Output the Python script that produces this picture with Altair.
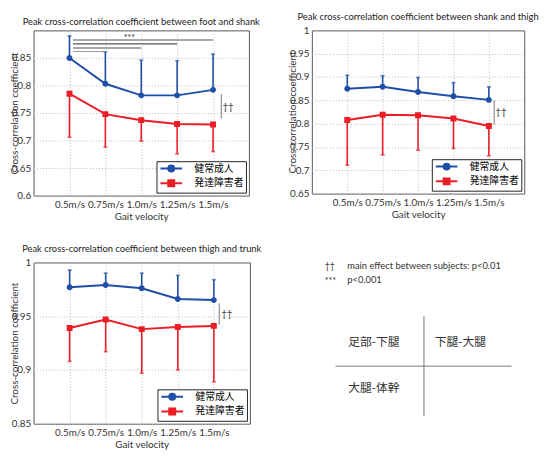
import json
import altair as alt
import pandas as pd

# ---------------- data ----------------
speeds = ["0.5m/s", "0.75m/s", "1.0m/s", "1.25m/s", "1.5m/s"]
speed_pos = [1, 2, 3, 4, 5]
groups = ["健常成人", "発達障害者"]

# foot - shank
fs_healthy = [0.850, 0.803, 0.782, 0.782, 0.792]
fs_healthy_upper = [0.890, 0.861, 0.846, 0.845, 0.857]
fs_dd = [0.785, 0.748, 0.737, 0.730, 0.729]
fs_dd_lower = [0.706, 0.688, 0.699, 0.676, 0.680]

# shank - thigh
st_healthy = [0.875, 0.879, 0.868, 0.859, 0.851]
st_healthy_upper = [0.904, 0.903, 0.899, 0.888, 0.879]
st_dd = [0.808, 0.819, 0.818, 0.811, 0.795]
st_dd_lower = [0.711, 0.733, 0.743, 0.747, 0.731]

# thigh - trunk
tt_healthy = [0.977, 0.979, 0.976, 0.966, 0.965]
tt_healthy_upper = [0.993, 0.990, 0.990, 0.988, 0.984]
tt_dd = [0.939, 0.947, 0.938, 0.940, 0.941]
tt_dd_lower = [0.908, 0.917, 0.897, 0.900, 0.889]

fs_ticks = [0.6, 0.65, 0.7, 0.75, 0.8, 0.85]
st_ticks = [0.65, 0.7, 0.75, 0.8, 0.85, 0.9, 0.95, 1.0]
tt_ticks = [0.85, 0.9, 0.95, 1.0]

# significance brackets (foot-shank): from 0.5m/s to each other speed
sig_end_pos = [5, 4, 3, 2]
sig_levels = [0.8825, 0.8754, 0.868, 0.8617]

notes_sym = ["††", "***"]
notes_text = ["main effect between subjects: p<0.01", "p<0.001"]
quad_labels = ["足部-下腿", "下腿-大腿", "大腿-体幹"]

# ---------------- style ----------------
BLUE = "#1f4ea6"
RED = "#ea1d25"
GRAY = "#777777"
FONT = "Lato"
CJK = "Noto Sans CJK JP"
# legend-style symbols: a line segment with a marker (the segment is only stroked in the legend)
CIRCLE_LINE = "M-2.44,0H2.44M-0.67,0A0.67,0.67,0,1,1,0.67,0A0.67,0.67,0,1,1,-0.67,0Z"
SQUARE_LINE = "M-2.44,0H2.44M-0.67,-0.67H0.67V0.67H-0.67Z"
SYM_SIZE = 81
LABEL_EXPR = json.dumps(speeds) + "[datum.value - 1]"


def panel(h, h_up, d, d_lo, y_dom, y_ticks, dag):
    df = pd.DataFrame({
        "pos": speed_pos * 2,
        "group": [groups[0]] * 5 + [groups[1]] * 5,
        "value": h + d,
        "err": h_up + d_lo,
    })
    xs = alt.Scale(domain=[0, 6], nice=False, zero=False)
    ys = alt.Scale(domain=y_dom, nice=False, zero=False)
    xaxis = alt.Axis(values=speed_pos, labelExpr=LABEL_EXPR, title="Gait velocity",
                     grid=True, ticks=False, domain=False, labelPadding=4, titlePadding=2)
    yaxis = alt.Axis(values=y_ticks, format=".2~f", title="Cross-correlation coefficient",
                     grid=True, ticks=False, domain=False, labelPadding=3, titlePadding=-8)

    def X(f="pos"):
        return alt.X(f"{f}:Q", scale=xs, axis=xaxis)

    def Y(f="value"):
        return alt.Y(f"{f}:Q", scale=ys, axis=yaxis)

    col = alt.Color("group:N", scale=alt.Scale(domain=groups, range=[BLUE, RED]), legend=None)
    base = alt.Chart(df)
    lines = base.mark_line(strokeWidth=2).encode(x=X(), y=Y(), color=col)
    err = base.mark_rule(strokeWidth=1.6).encode(x=X(), y=Y(), y2="err:Q", color=col)
    caps = base.mark_tick(orient="horizontal", size=4, thickness=1.6).encode(x=X(), y=Y("err"), color=col)
    leg = alt.Legend(title=None, orient="bottom-right", offset=3, padding=2,
                     strokeColor="#222222", fillColor="white", symbolSize=SYM_SIZE,
                     symbolStrokeWidth=2, symbolOffset=7.5, labelFont=CJK, labelFontSize=10,
                     rowPadding=0, labelOffset=18, cornerRadius=0)
    pts = base.mark_point(filled=True, opacity=1).encode(
        x=X(), y=Y(),
        fill=alt.Fill("group:N", scale=alt.Scale(domain=groups, range=[BLUE, RED]), legend=leg),
        stroke=alt.Stroke("group:N", scale=alt.Scale(domain=groups, range=[BLUE, RED]), legend=leg),
        shape=alt.Shape("group:N", scale=alt.Scale(domain=groups, range=[CIRCLE_LINE, SQUARE_LINE]), legend=leg),
        strokeWidth=alt.value(0), size=alt.value(SYM_SIZE),
    )
    layers = [err, caps, lines, pts]

    # dagger annotation (main effect between subjects)
    dx, dy1, dy2, tx, ty = dag
    ddf = pd.DataFrame({"x": [dx], "y1": [dy1], "y2": [dy2], "tx": [tx], "ty": [ty], "t": ["††"]})
    layers.append(alt.Chart(ddf).mark_rule(color=GRAY, strokeWidth=1).encode(x=X("x"), y=Y("y1"), y2="y2:Q"))
    layers.append(alt.Chart(ddf).mark_text(font=FONT, fontSize=10, color="#333333", align="center", baseline="middle")
                  .encode(x=X("tx"), y=Y("ty"), text="t:N"))
    return layers, X, Y


def finish(layers, w, hgt, title):
    return alt.layer(*layers).properties(
        width=w, height=hgt,
        title=alt.TitleParams(title, font=FONT, fontSize=9.5, fontWeight="normal", color="#222222", offset=4),
    )


H1, H2, H3 = 168, 166, 164

# panel 1
l1, X1, Y1 = panel(fs_healthy, fs_healthy_upper, fs_dd, fs_dd_lower, [0.6, 0.9], fs_ticks,
                   (5.23, 0.7844, 0.7401, 5.42, 0.761))
sig_df = pd.DataFrame({"x1": [1.1] * 4, "x2": sig_end_pos, "y": sig_levels})
l1.append(alt.Chart(sig_df.iloc[:3]).mark_rule(color="#555555", strokeWidth=1.2).encode(
    x=X1("x1"), x2="x2:Q", y=Y1("y")))
l1.append(alt.Chart(sig_df.iloc[3:]).mark_rule(color="#999999", strokeWidth=1.2).encode(
    x=X1("x1"), x2="x2:Q", y=Y1("y")))
star_df = pd.DataFrame({"x": [2.67], "y": [0.8862], "t": ["***"]})
l1.append(alt.Chart(star_df).mark_text(font=FONT, fontSize=9, color="#333333", baseline="middle")
          .encode(x=X1("x"), y=Y1("y"), text="t:N"))
p1 = finish(l1, 219, H1, "Peak cross-correlation coefficient between foot and shank")

# panel 2
l2, _, _ = panel(st_healthy, st_healthy_upper, st_dd, st_dd_lower, [0.65, 1.0], st_ticks,
                 (5.15, 0.85, 0.798, 5.34, 0.824))
p2 = finish(l2, 216, H2, "Peak cross-correlation coefficient between shank and thigh")

# panel 3
l3, _, _ = panel(tt_healthy, tt_healthy_upper, tt_dd, tt_dd_lower, [0.85, 1.0], tt_ticks,
                 (5.15, 0.962, 0.942, 5.36, 0.9524))
p3 = finish(l3, 220, H3, "Peak cross-correlation coefficient between thigh and trunk")

# ---------------- annotation panel (coordinates in reference-figure units) ----------------
OX, TW = 303, 230
axs = alt.Scale(domain=[OX, OX + TW], nice=False, zero=False)
ays = alt.Scale(domain=[267, 435], nice=False, zero=False, reverse=True)
sym_df = pd.DataFrame({"x": [323, 323], "y": [271, 286], "t": notes_sym})
note_df = pd.DataFrame({"x": [346, 346], "y": [271, 285], "t": notes_text})
quad_df = pd.DataFrame({"x": [347, 435, 347], "y": [350, 350, 398], "t": quad_labels})
vline_df = pd.DataFrame({"x": [424], "y1": [323], "y2": [427]})
hline_df = pd.DataFrame({"x1": [334], "x2": [513], "y": [375]})

ax = lambda f: alt.X(f"{f}:Q", scale=axs, axis=None)
ay = lambda f: alt.Y(f"{f}:Q", scale=ays, axis=None)
txt = alt.layer(
    alt.Chart(sym_df).mark_text(font=FONT, fontSize=9, align="left", baseline="middle", color="#333333")
    .encode(x=ax("x"), y=ay("y"), text="t:N"),
    alt.Chart(note_df).mark_text(font=FONT, fontSize=9.5, align="left", baseline="middle", color="#333333")
    .encode(x=ax("x"), y=ay("y"), text="t:N"),
    alt.Chart(quad_df).mark_text(font=CJK, fontSize=12, align="left", baseline="middle", color="#333333")
    .encode(x=ax("x"), y=ay("y"), text="t:N"),
    alt.Chart(vline_df).mark_rule(color=GRAY, strokeWidth=1).encode(x=ax("x"), y=ay("y1"), y2="y2:Q"),
    alt.Chart(hline_df).mark_rule(color=GRAY, strokeWidth=1).encode(x=ax("x1"), x2="x2:Q", y=ay("y")),
).properties(width=TW, height=H3, view=alt.ViewBackground(stroke="transparent"))

res = dict(fill="independent", stroke="independent", shape="independent")
top = alt.hconcat(p1, p2, spacing=26).resolve_legend(**res)
bottom = alt.hconcat(p3, txt, spacing=42).resolve_legend(**res)
chart = alt.vconcat(top, bottom, spacing=22).resolve_legend(**res).configure(
    background="white", padding=0
).configure_view(
    stroke="#555555", strokeWidth=1
).configure_axis(
    labelFont=FONT, labelFontSize=10, labelColor="#333333",
    titleFont=FONT, titleFontSize=10, titleFontWeight="normal", titleColor="#333333",
    gridColor="#bbbbbb", gridDash=[1, 2], gridWidth=1,
)

chart.save("out.html", embed_options={"renderer": "svg", "actions": False})
